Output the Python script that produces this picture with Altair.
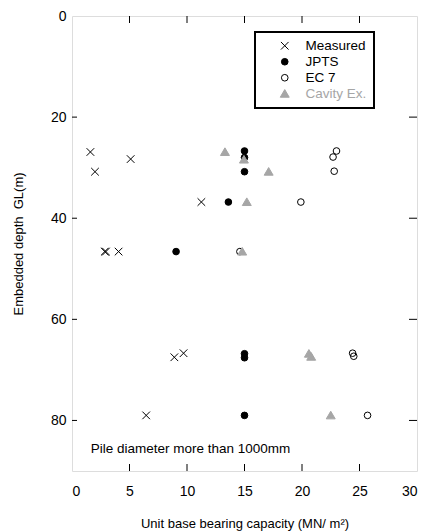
import altair as alt
import pandas as pd

# ---- data ----
measured_x = [1.6, 5.1, 2.0, 11.25, 2.85, 2.95, 4.05, 8.9, 9.7, 6.45]
measured_y = [26.9, 28.3, 30.8, 36.8, 46.6, 46.6, 46.6, 67.5, 66.7, 79.0]

jpts_x = [15.0, 15.0, 15.0, 13.6, 9.05, 15.0, 15.0, 15.0]
jpts_y = [26.7, 28.0, 30.8, 36.8, 46.6, 66.8, 67.6, 79.0]

ec7_x = [23.0, 22.7, 22.8, 19.9, 14.6, 24.4, 24.5, 25.7]
ec7_y = [26.7, 27.9, 30.7, 36.8, 46.6, 66.7, 67.3, 79.0]

cavity_x = [13.3, 14.95, 17.1, 15.2, 14.8, 20.6, 20.8, 22.5]
cavity_y = [26.9, 28.4, 30.8, 36.8, 46.6, 66.8, 67.4, 79.0]

series = ["Measured", "JPTS", "EC 7", "Cavity Ex."]
x_ticks = [5, 10, 15, 20, 25]
y_ticks = [20, 40, 60, 80]
note_text = "Pile diameter more than 1000mm"
note_x = [1.63]
note_y = [85.7]

rows = []
for name, xs, ys in [("Measured", measured_x, measured_y),
                     ("JPTS", jpts_x, jpts_y),
                     ("EC 7", ec7_x, ec7_y),
                     ("Cavity Ex.", cavity_x, cavity_y)]:
    for a, b in zip(xs, ys):
        rows.append({"x": a, "y": b, "series": name})
df = pd.DataFrame(rows)

GRAY = "#a6a6a6"
FONT = "Liberation Sans"
W, H = 345, 455

xscale = alt.Scale(domain=[0, 30], nice=False, zero=False)
yscale = alt.Scale(domain=[0, 90], nice=False, zero=False, reverse=True)

legend = alt.Legend(
    title=None,
    orient="none",
    legendX=183,
    legendY=16,
    strokeColor="black",
    padding=7,
    symbolOffset=16,
    labelOffset=14,
    labelFont=FONT,
    labelFontSize=13.5,
    labelColor=alt.ExprRef("datum.label === 'Cavity Ex.' ? '" + GRAY + "' : 'black'"),
    rowPadding=1,
    symbolStrokeWidth=1,
    symbolSize=44,
)

cross_path = "M-1.15,-1.15L1.15,1.15M1.15,-1.15L-1.15,1.15"
tri_path = "M0,-1.25L1.35,1.05L-1.35,1.05Z"

points = alt.Chart(df).mark_point(strokeWidth=1, opacity=1, size=44).encode(
    x=alt.X("x:Q", scale=xscale,
            axis=alt.Axis(values=[0, 5, 10, 15, 20, 25, 30], ticks=False, tickSize=0, domain=False,
                          labelPadding=13, labelFontSize=14, labelFont=FONT, labelColor="black",
                          title="Unit base bearing capacity (MN/ m²)",
                          titleFont=FONT, titleFontSize=13, titleFontWeight="normal",
                          titleColor="black", titleY=56, titleBaseline="alphabetic",
                          grid=False)),
    y=alt.Y("y:Q", scale=yscale,
            axis=alt.Axis(values=[0, 20, 40, 60, 80], ticks=False, tickSize=0, domain=False,
                          labelPadding=6, labelFontSize=14, labelFont=FONT, labelColor="black",
                          title="Embedded depth\u00a0 GL(m)",
                          titleFont=FONT, titleFontSize=13, titleFontWeight="normal",
                          titleColor="black", titleX=-54, titleY=H / 2,
                          titleBaseline="middle", titleAngle=-90, grid=False)),
    shape=alt.Shape("series:N", scale=alt.Scale(domain=series,
                    range=[cross_path, "circle", "circle", tri_path]), legend=legend),
    fill=alt.Fill("series:N", scale=alt.Scale(domain=series,
                  range=["transparent", "black", "transparent", GRAY]), legend=legend),
    stroke=alt.Stroke("series:N", scale=alt.Scale(domain=series,
                      range=["black", "black", "black", GRAY]), legend=legend),
)

tick_x_df = pd.DataFrame({"v": x_ticks})
tick_y_df = pd.DataFrame({"v": y_ticks})

bottom_ticks = alt.Chart(tick_x_df).mark_rule(color="black", strokeWidth=1).encode(
    x=alt.X("v:Q", scale=xscale), y=alt.value(H), y2=alt.value(H - 7))
top_ticks = alt.Chart(tick_x_df).mark_rule(color="black", strokeWidth=1).encode(
    x=alt.X("v:Q", scale=xscale), y=alt.value(0), y2=alt.value(7))
left_ticks = alt.Chart(tick_y_df).mark_rule(color="black", strokeWidth=1).encode(
    y=alt.Y("v:Q", scale=yscale), x=alt.value(0), x2=alt.value(5))
right_ticks = alt.Chart(tick_y_df).mark_rule(color="black", strokeWidth=1).encode(
    y=alt.Y("v:Q", scale=yscale), x=alt.value(W), x2=alt.value(W - 8))

note = alt.Chart(pd.DataFrame({"x": note_x, "y": note_y, "t": [note_text]})).mark_text(
    align="left", baseline="middle", font=FONT, fontSize=13.5, color="black"
).encode(x=alt.X("x:Q", scale=xscale), y=alt.Y("y:Q", scale=yscale), text="t:N")

chart = alt.layer(points, bottom_ticks, top_ticks, left_ticks, right_ticks, note).properties(
    width=W, height=H,
    autosize=alt.AutoSizeParams(type="none"),
    padding={"left": 72, "top": 16, "right": 12, "bottom": 60},
).configure_view(stroke="black", strokeWidth=1.5).configure(background="white").configure_legend(
    strokeWidth=2)

chart.save("out.html", embed_options={"renderer": "svg", "actions": False})
